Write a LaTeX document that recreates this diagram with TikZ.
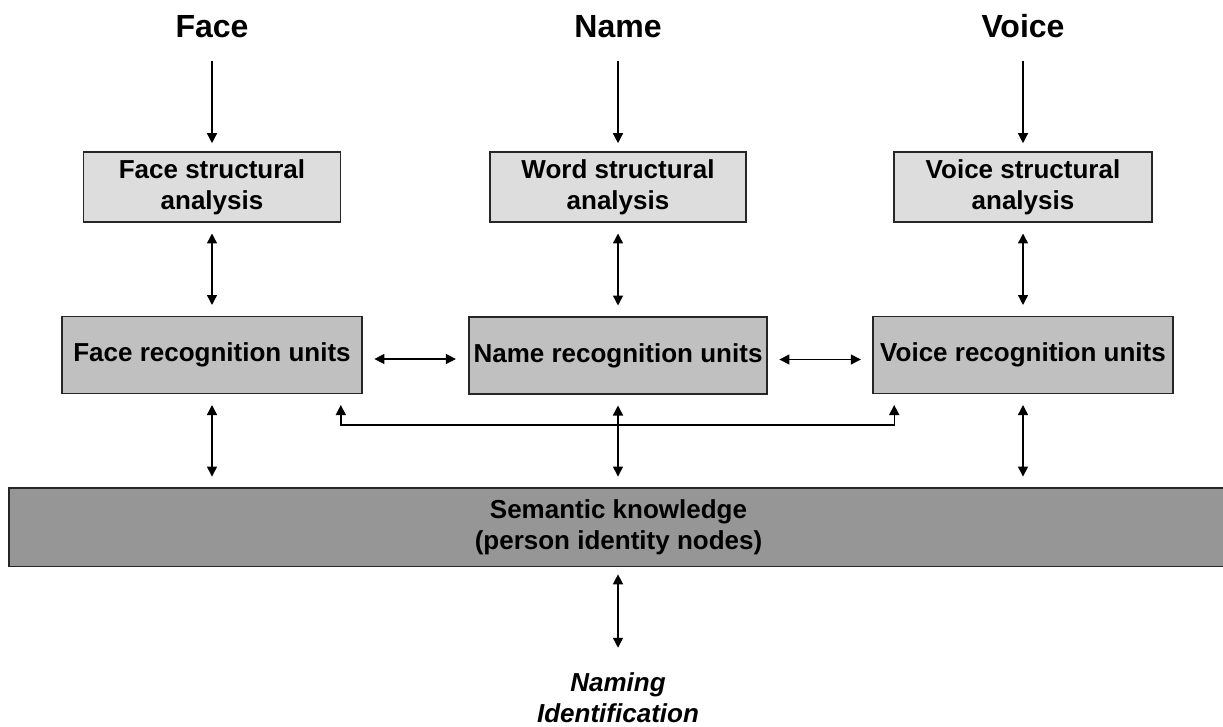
\documentclass[tikz,border=0pt]{standalone}
\usepackage{fontspec}
\setmainfont{Liberation Sans}
\usetikzlibrary{arrows.meta}
\definecolor{boxline}{HTML}{262626}
\definecolor{lightbox}{HTML}{DDDDDD}
\definecolor{midbox}{HTML}{C0C0C0}
\definecolor{darkbox}{HTML}{969696}
\newcommand\myboxfont{\fontsize{26}{31}\selectfont\bfseries}
\newcommand\mytitlefont{\fontsize{32}{38}\selectfont\bfseries}
\newcommand\mynamefont{\fontsize{26}{31}\selectfont\bfseries\itshape}
\begin{document}
\begin{tikzpicture}[x=1pt,y=-1pt,
  box/.style={draw=boxline, line width=1.6pt, inner sep=0pt, align=center, font=\myboxfont},
  sbox/.style={box, fill=lightbox, minimum width=257pt, minimum height=70pt},
  rbox/.style={box, fill=midbox, minimum width=300pt, minimum height=77pt},
  title/.style={font=\mytitlefont, inner sep=0pt, anchor=base},
  arr/.style={line width=1.4pt, draw=black, -{Triangle[length=10pt,width=10pt]}},
  dbl/.style={line width=1.4pt, draw=black, {Triangle[length=10pt,width=10pt]}-{Triangle[length=10pt,width=10pt]}},
]
\useasboundingbox (0,0) rectangle (1223,727);
% titles
\node[title] (tface) at (212,38) {Face};
\node[title] (tname) at (618,38) {Name};
\node[title] (tvoice) at (1023,38) {Voice};
% structural analysis boxes
\node[sbox] (fsa) at (212,187) {Face structural\\analysis};
\node[sbox, minimum width=256pt] (wsa) at (618,187) {Word structural\\analysis};
\node[sbox, minimum width=258pt] (vsa) at (1023,187) {Voice structural\\analysis};
% recognition units
\node[rbox] (fru) at (212,355) {Face recognition units};
\node[rbox, minimum width=298pt] (nru) at (618,355.5) {Name recognition units};
\node[rbox] (vru) at (1023,355) {Voice recognition units};
% semantic knowledge
\node[box, fill=darkbox, minimum width=1219pt, minimum height=78.5pt] (sem) at (618.5,527.3) {Semantic knowledge\\(person identity nodes)};
% output
\node[font=\mynamefont, align=center, inner sep=0pt] (nam) at (618,698) {Naming\\Identification};
% input arrows
\draw[arr, shorten <=22pt, shorten >=8pt] (tface.south) -- (fsa.north);
\draw[arr, shorten <=22pt, shorten >=8pt] (tname.south) -- (wsa.north);
\draw[arr, shorten <=22pt, shorten >=8pt] (tvoice.south) -- (vsa.north);
% structural <-> recognition
\draw[dbl, shorten <=10.7pt, shorten >=10.7pt] (fsa.south) -- (fru.north);
\draw[dbl, shorten <=10.7pt, shorten >=10.7pt] (wsa.south) -- (nru.north);
\draw[dbl, shorten <=10.7pt, shorten >=10.7pt] (vsa.south) -- (vru.north);
% horizontal between recognition units
\draw[dbl, shorten <=11.6pt, shorten >=12.3pt] ([yshift=-4pt]fru.east) -- ([yshift=-4pt]fru.east -| nru.west);
\draw[dbl, shorten <=11.6pt, shorten >=11.4pt] ([yshift=-4pt]nru.east) -- ([yshift=-4pt]nru.east -| vru.west);
% recognition <-> semantic
\draw[dbl, shorten <=10.7pt, shorten >=10.7pt] (fru.south) -- (fru.south |- sem.north);
\draw[dbl, shorten <=10.7pt, shorten >=10.7pt] (nru.south) -- (nru.south |- sem.north);
\draw[dbl, shorten <=10.7pt, shorten >=10.7pt] (vru.south) -- (vru.south |- sem.north);
% bracket between face and voice recognition units
\draw[dbl] ([xshift=-22pt,yshift=-10.7pt]fru.south east) -- ++(0,20) -| ([xshift=22pt,yshift=-10.7pt]vru.south west);
% semantic <-> naming
\draw[dbl, shorten <=7pt, shorten >=25pt] (sem.south -| nam.north) -- (nam.north);
\end{tikzpicture}
\end{document}
